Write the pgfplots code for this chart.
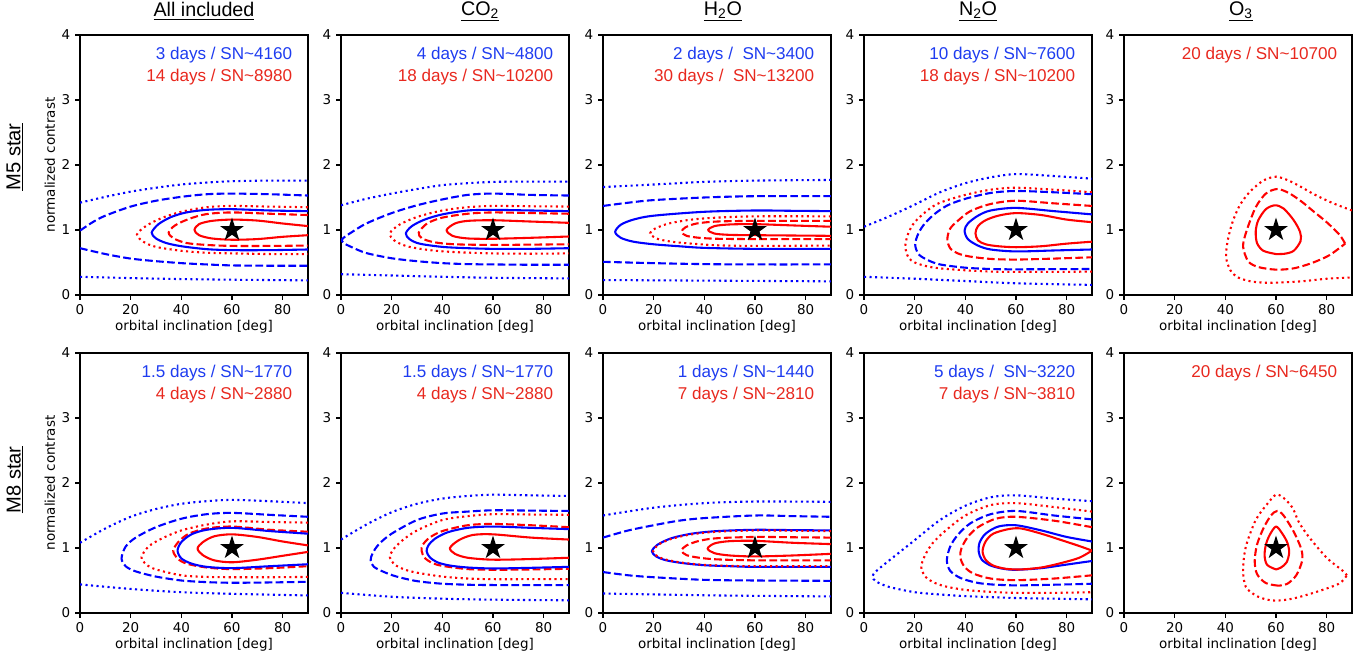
\documentclass[border=0pt]{standalone}
\usepackage{pgfplots}
\pgfplotsset{compat=1.18}
\usepackage{fontspec}
\setmainfont{DejaVu Sans}
\newfontfamily\arial{Liberation Sans}
\definecolor{tblue}{RGB}{30,60,240}
\definecolor{tred}{RGB}{232,40,30}
\definecolor{lblue}{RGB}{0,0,255}
\definecolor{lred}{RGB}{255,0,0}
\pgfdeclareplotmark{fstar}{%
  \pgfpathmoveto{\pgfpointpolar{90}{\pgfplotmarksize}}%
  \pgfpathlineto{\pgfpointpolar{126}{0.382*\pgfplotmarksize}}%
  \pgfpathlineto{\pgfpointpolar{162}{\pgfplotmarksize}}%
  \pgfpathlineto{\pgfpointpolar{198}{0.382*\pgfplotmarksize}}%
  \pgfpathlineto{\pgfpointpolar{234}{\pgfplotmarksize}}%
  \pgfpathlineto{\pgfpointpolar{270}{0.382*\pgfplotmarksize}}%
  \pgfpathlineto{\pgfpointpolar{306}{\pgfplotmarksize}}%
  \pgfpathlineto{\pgfpointpolar{342}{0.382*\pgfplotmarksize}}%
  \pgfpathlineto{\pgfpointpolar{18}{\pgfplotmarksize}}%
  \pgfpathlineto{\pgfpointpolar{54}{0.382*\pgfplotmarksize}}%
  \pgfpathclose
  \pgfusepathqfill
}
\tikzset{
  bs/.style={lblue, line width=1.5pt, smooth, line join=round},
  bd/.style={lblue, line width=1.5pt, smooth, dash pattern=on 5.55pt off 2.4pt},
  bo/.style={lblue, line width=1.5pt, smooth, dash pattern=on 1.5pt off 2.475pt},
  rs/.style={lred, line width=1.5pt, smooth, line join=round},
  rd/.style={lred, line width=1.5pt, smooth, dash pattern=on 5.55pt off 2.4pt},
  ro/.style={lred, line width=1.5pt, smooth, dash pattern=on 1.5pt off 2.475pt},
  ann/.style={anchor=east, font=\arial\fontsize{12.3}{14}\selectfont},
  ttl/.style={font=\arial\fontsize{14.2}{17}\selectfont},
  rowl/.style={rotate=90, font=\arial\fontsize{14.5}{17}\selectfont},
}
\pgfplotsset{
  panel/.style={
    scale only axis, width=164.16pt, height=187.2pt,
    anchor=south west,
    xmin=0, xmax=90, ymin=0, ymax=4,
    xtick={0,20,40,60,80}, ytick={0,1,2,3,4},
    tick align=outside, tick pos=left,
    major tick length=3.5pt,
    every tick/.style={black, line width=0.8pt},
    axis line style={black, line width=0.8pt},
    tick label style={font=\fontsize{9.7}{11}\selectfont},
    /pgf/number format/assume math mode=true,
    xlabel={orbital inclination [deg]},
    xlabel style={at={(rel axis cs:0.5,-0.123)}, anchor=center, font=\fontsize{9.7}{11}\selectfont},
    clip mode=individual,
  },
  ylab/.style={
    ylabel={normalized contrast},
    ylabel style={at={(rel axis cs:-0.132,0.5)}, anchor=center, rotate=0, font=\fontsize{9.7}{11}\selectfont},
  },
}
\newcommand{\starmark}{\addplot[only marks, mark=fstar, mark size=8.9pt, black] coordinates {(60,1)};}
\begin{document}
\begin{tikzpicture}
\useasboundingbox (0,0) rectangle (985.68pt,475.2pt);

% ===== Row 1: M5 star =====
% All included
\begin{axis}[panel, ylab, at={(57.6pt,262.8pt)}]
\addplot[bo] coordinates {(0,1.42)(10,1.51)(20,1.59)(30,1.65)(40,1.70)(50,1.73)(60,1.75)(75,1.76)(90,1.76)};
\addplot[bo] coordinates {(0,0.28)(20,0.26)(40,0.245)(60,0.235)(90,0.225)};
\addplot[bd] coordinates {(0,0.99)(5,1.12)(10,1.22)(20,1.36)(30,1.45)(40,1.51)(50,1.55)(60,1.56)(75,1.55)(90,1.53)};
\addplot[bd] coordinates {(0,0.72)(10,0.63)(20,0.56)(30,0.52)(40,0.49)(50,0.47)(60,0.455)(75,0.45)(90,0.45)};
\addplot[ro] coordinates {(90,1.35)(75,1.36)(60,1.37)(50,1.35)(40,1.28)(32,1.18)(26,1.06)(22.5,0.93)(25,0.82)(30,0.74)(40,0.68)(50,0.65)(60,0.64)(75,0.63)(90,0.63)};
\addplot[rd] coordinates {(90,1.23)(75,1.25)(60,1.27)(50,1.245)(43,1.17)(37.5,1.07)(35,0.96)(37,0.87)(42,0.80)(50,0.77)(60,0.755)(75,0.755)(90,0.76)};
\addplot[bs] coordinates {(90,1.29)(75,1.30)(60,1.32)(50,1.31)(42,1.27)(36,1.20)(31,1.09)(28.3,0.96)(30,0.87)(34,0.80)(40,0.75)(50,0.705)(60,0.69)(75,0.69)(90,0.70)};
\addplot[rs] coordinates {(90,1.06)(80,1.10)(70,1.145)(60,1.16)(52,1.14)(47,1.09)(45.2,1.0)(47,0.92)(52,0.87)(60,0.85)(70,0.86)(80,0.895)(90,0.92)};
\starmark
\node[ann, text=tblue] at (rel axis cs:0.952,0.923) {3 days / SN\textasciitilde 4160};
\node[ann, text=tred] at (rel axis cs:0.952,0.838) {14 days / SN\textasciitilde 8980};
\node[ttl] at (rel axis cs:0.544,1.092) {\underline{All included}};
\node[rowl] at (rel axis cs:-0.285,0.531) {\underline{M5 star}};
\end{axis}

% CO2
\begin{axis}[panel, at={(245.52pt,262.8pt)}]
\addplot[bo] coordinates {(0,1.38)(10,1.48)(20,1.56)(30,1.63)(40,1.69)(50,1.72)(60,1.74)(75,1.745)(90,1.745)};
\addplot[bo] coordinates {(0,0.32)(20,0.30)(40,0.28)(60,0.265)(90,0.255)};
\addplot[bd] coordinates {(90,1.53)(75,1.54)(60,1.56)(50,1.54)(40,1.47)(30,1.38)(20,1.26)(10,1.10)(4,0.96)(1,0.88)(0.3,0.85)(1,0.80)(4,0.74)(10,0.645)(20,0.565)(30,0.52)(40,0.49)(50,0.475)(60,0.47)(75,0.465)(90,0.465)};
\addplot[ro] coordinates {(90,1.36)(75,1.365)(60,1.37)(50,1.35)(40,1.30)(30,1.20)(23,1.08)(19.3,0.95)(21,0.84)(26,0.75)(35,0.69)(45,0.66)(60,0.64)(75,0.635)(90,0.64)};
\addplot[rd] coordinates {(90,1.25)(75,1.26)(60,1.27)(50,1.25)(40,1.19)(34,1.10)(30.7,0.96)(32,0.87)(37,0.81)(45,0.78)(60,0.77)(75,0.775)(90,0.78)};
\addplot[bs] coordinates {(90,1.29)(75,1.30)(60,1.31)(50,1.30)(40,1.24)(33,1.16)(28,1.06)(25.6,0.95)(27,0.86)(31,0.79)(40,0.74)(50,0.72)(60,0.71)(75,0.71)(90,0.72)};
\addplot[rs] coordinates {(90,1.11)(75,1.13)(60,1.15)(50,1.14)(45,1.10)(41.7,1.0)(44,0.91)(50,0.87)(60,0.865)(75,0.88)(90,0.90)};
\starmark
\node[ann, text=tblue] at (rel axis cs:0.952,0.923) {4 days / SN\textasciitilde 4800};
\node[ann, text=tred] at (rel axis cs:0.952,0.838) {18 days / SN\textasciitilde 10200};
\node[ttl] at (rel axis cs:0.61,1.092) {\underline{CO\textsubscript{2}}};
\end{axis}

% H2O
\begin{axis}[panel, at={(434.16pt,262.8pt)}]
\addplot[bo] coordinates {(0,1.66)(20,1.70)(40,1.74)(60,1.76)(90,1.77)};
\addplot[bo] coordinates {(0,0.23)(45,0.22)(90,0.21)};
\addplot[bd] coordinates {(0,1.37)(10,1.42)(20,1.46)(40,1.50)(60,1.52)(90,1.52)};
\addplot[bd] coordinates {(0,0.51)(20,0.49)(40,0.475)(60,0.47)(90,0.47)};
\addplot[bs] coordinates {(90,1.29)(75,1.295)(60,1.30)(40,1.28)(20,1.22)(12,1.16)(7,1.08)(4.8,0.97)(7,0.88)(12,0.82)(20,0.78)(30,0.75)(40,0.725)(60,0.71)(90,0.71)};
\addplot[ro] coordinates {(90,1.21)(60,1.21)(45,1.19)(35,1.16)(26,1.10)(20.5,1.02)(18.6,0.95)(21,0.87)(27,0.82)(35,0.79)(45,0.765)(60,0.755)(90,0.76)};
\addplot[rd] coordinates {(90,1.14)(60,1.14)(45,1.13)(37,1.10)(32.5,1.04)(31,0.97)(33,0.91)(38,0.88)(45,0.865)(60,0.86)(90,0.86)};
\addplot[rs] coordinates {(90,1.05)(75,1.07)(60,1.09)(50,1.085)(44,1.06)(41.5,1.0)(44,0.945)(50,0.925)(60,0.92)(75,0.915)(90,0.91)};
\starmark
\node[ann, text=tblue] at (rel axis cs:0.948,0.923) {2 days /\ \ SN\textasciitilde 3400};
\node[ann, text=tred] at (rel axis cs:0.948,0.838) {30 days /\ \ SN\textasciitilde 13200};
\node[ttl] at (rel axis cs:0.526,1.092) {\underline{H\textsubscript{2}O}};
\end{axis}

% N2O
\begin{axis}[panel, at={(622.08pt,262.8pt)}]
\addplot[bo] coordinates {(0,1.05)(10,1.21)(20,1.39)(30,1.58)(40,1.72)(50,1.81)(60,1.86)(75,1.83)(90,1.79)};
\addplot[bo] coordinates {(0,0.28)(20,0.25)(40,0.215)(60,0.18)(90,0.155)};
\addplot[ro] coordinates {(90,1.58)(75,1.62)(60,1.65)(50,1.62)(40,1.54)(30,1.42)(25,1.30)(20,1.12)(17.5,0.95)(16.3,0.75)(17.5,0.58)(20,0.50)(25,0.44)(30,0.41)(40,0.38)(50,0.36)(60,0.355)(75,0.355)(90,0.36)};
\addplot[bd] coordinates {(90,1.55)(75,1.58)(60,1.60)(50,1.57)(40,1.48)(33,1.38)(28,1.25)(24,1.10)(21.5,0.95)(20.2,0.78)(21.5,0.63)(25,0.54)(30,0.47)(40,0.42)(50,0.40)(60,0.395)(90,0.40)};
\addplot[rd] coordinates {(90,1.37)(75,1.41)(60,1.45)(50,1.40)(42,1.29)(37,1.14)(34,1.02)(32.9,0.86)(34,0.72)(37,0.64)(42,0.59)(50,0.555)(60,0.545)(75,0.56)(90,0.58)};
\addplot[bs] coordinates {(90,1.24)(75,1.29)(60,1.34)(50,1.30)(45,1.22)(41,1.10)(39.7,0.99)(41,0.86)(45,0.76)(50,0.70)(60,0.67)(75,0.685)(90,0.70)};
\addplot[rs] coordinates {(90,1.12)(80,1.16)(70,1.23)(60,1.26)(53,1.22)(48,1.15)(45,1.06)(44,0.95)(45,0.84)(48,0.78)(53,0.75)(60,0.735)(70,0.75)(80,0.79)(90,0.82)};
\starmark
\node[ann, text=tblue] at (rel axis cs:0.948,0.923) {10 days / SN\textasciitilde 7600};
\node[ann, text=tred] at (rel axis cs:0.948,0.838) {18 days / SN\textasciitilde 10200};
\node[ttl] at (rel axis cs:0.5,1.092) {\underline{N\textsubscript{2}O}};
\end{axis}

% O3
\begin{axis}[panel, at={(809.28pt,262.8pt)}]
\addplot[ro] coordinates {(90,1.30)(82,1.42)(75,1.55)(70,1.66)(65,1.76)(60,1.82)(55,1.76)(50,1.60)(46,1.40)(43,1.14)(41,0.85)(40.3,0.58)(42,0.38)(45,0.27)(50,0.21)(55,0.19)(60,0.19)(70,0.21)(80,0.25)(90,0.27)};
\addplot[rd] coordinates {(87.3,0.79)(85,0.93)(80,1.12)(75,1.28)(70,1.44)(65,1.57)(60.5,1.63)(56,1.56)(52,1.35)(48.5,1.0)(47,0.75)(49,0.52)(53,0.43)(60,0.39)(67,0.41)(74,0.49)(81,0.61)(87.3,0.79)};
\addplot[rs] coordinates {(60,0.63)(55,0.68)(52.5,0.80)(52,0.98)(53,1.15)(56,1.32)(59.6,1.38)(63,1.33)(67,1.15)(69.5,0.97)(69.7,0.83)(67,0.68)(63.5,0.635)(60,0.63)};
\starmark
\node[ann, text=tred] at (rel axis cs:0.956,0.923) {20 days / SN\textasciitilde 10700};
\node[ttl] at (rel axis cs:0.513,1.092) {\underline{O\textsubscript{3}}};
\end{axis}

% ===== Row 2: M8 star =====
% All included
\begin{axis}[panel, ylab, at={(57.6pt,33.84pt)}]
\addplot[bo] coordinates {(0,1.08)(10,1.30)(20,1.48)(30,1.60)(40,1.68)(50,1.72)(60,1.74)(75,1.72)(90,1.69)};
\addplot[bo] coordinates {(0,0.44)(20,0.37)(40,0.32)(60,0.295)(90,0.27)};
\addplot[bd] coordinates {(90,1.48)(75,1.51)(60,1.54)(50,1.52)(40,1.45)(30,1.32)(22,1.16)(18,1.02)(16.4,0.84)(18,0.72)(22,0.64)(30,0.56)(40,0.50)(50,0.475)(60,0.465)(75,0.47)(90,0.48)};
\addplot[ro] coordinates {(90,1.39)(75,1.40)(60,1.41)(50,1.36)(40,1.27)(32,1.14)(27,1.02)(24.3,0.86)(26,0.75)(30,0.67)(40,0.58)(50,0.555)(60,0.55)(75,0.55)(90,0.555)};
\addplot[rd] coordinates {(90,1.25)(75,1.28)(60,1.33)(50,1.30)(43,1.22)(39,1.10)(36.8,0.96)(38.5,0.84)(42,0.76)(50,0.70)(60,0.675)(75,0.69)(90,0.72)};
\addplot[bs] coordinates {(90,1.22)(75,1.26)(60,1.31)(50,1.28)(44,1.21)(40,1.09)(38.5,0.96)(40,0.84)(44,0.76)(50,0.71)(60,0.69)(75,0.72)(90,0.75)};
\addplot[rs] coordinates {(90,1.04)(80,1.10)(70,1.17)(60,1.21)(53,1.18)(48.5,1.09)(46.4,0.99)(48.5,0.89)(53,0.81)(60,0.78)(70,0.82)(80,0.88)(90,0.94)};
\starmark
\node[ann, text=tblue] at (rel axis cs:0.952,0.923) {1.5 days / SN\textasciitilde 1770};
\node[ann, text=tred] at (rel axis cs:0.952,0.838) {4 days / SN\textasciitilde 2880};
\node[rowl] at (rel axis cs:-0.285,0.512) {\underline{M8 star}};
\end{axis}

% CO2
\begin{axis}[panel, at={(245.52pt,33.84pt)}]
\addplot[bo] coordinates {(0,1.13)(10,1.36)(20,1.55)(30,1.68)(40,1.76)(50,1.80)(60,1.82)(75,1.81)(90,1.80)};
\addplot[bo] coordinates {(0,0.31)(20,0.25)(40,0.22)(60,0.205)(90,0.195)};
\addplot[bd] coordinates {(90,1.57)(75,1.575)(60,1.58)(50,1.56)(40,1.53)(30,1.43)(20,1.22)(15,1.06)(12.5,0.92)(11.7,0.81)(13,0.71)(17,0.63)(22,0.56)(30,0.49)(40,0.45)(50,0.435)(60,0.43)(75,0.43)(90,0.43)};
\addplot[ro] coordinates {(90,1.51)(75,1.515)(60,1.52)(50,1.49)(40,1.43)(30,1.27)(24,1.11)(20.5,0.97)(19.3,0.86)(21,0.75)(25,0.67)(30,0.62)(40,0.56)(50,0.53)(60,0.52)(75,0.52)(90,0.52)};
\addplot[rd] coordinates {(90,1.32)(75,1.35)(60,1.37)(50,1.35)(40,1.26)(35,1.16)(32.3,1.05)(31.8,0.96)(33,0.85)(36,0.77)(40,0.725)(50,0.675)(60,0.665)(75,0.67)(90,0.68)};
\addplot[bs] coordinates {(90,1.29)(75,1.31)(60,1.33)(50,1.31)(42,1.24)(37,1.14)(34.5,1.04)(33.8,0.95)(35,0.86)(38,0.78)(43,0.73)(50,0.70)(60,0.685)(75,0.695)(90,0.71)};
\addplot[rs] coordinates {(90,1.13)(75,1.16)(60,1.21)(52,1.20)(46.5,1.12)(43,1.0)(45,0.91)(50,0.85)(60,0.82)(75,0.83)(90,0.85)};
\starmark
\node[ann, text=tblue] at (rel axis cs:0.952,0.923) {1.5 days / SN\textasciitilde 1770};
\node[ann, text=tred] at (rel axis cs:0.952,0.838) {4 days / SN\textasciitilde 2880};
\end{axis}

% H2O
\begin{axis}[panel, at={(434.16pt,33.84pt)}]
\addplot[bo] coordinates {(0,1.50)(20,1.62)(40,1.69)(60,1.715)(90,1.71)};
\addplot[bo] coordinates {(0,0.30)(45,0.27)(90,0.255)};
\addplot[bd] coordinates {(0,1.16)(10,1.27)(20,1.35)(30,1.42)(40,1.46)(60,1.50)(75,1.49)(90,1.48)};
\addplot[bd] coordinates {(0,0.63)(10,0.58)(20,0.55)(40,0.51)(60,0.50)(90,0.495)};
\addplot[bs] coordinates {(90,1.27)(75,1.275)(60,1.28)(45,1.26)(35,1.22)(27,1.15)(21.5,1.05)(19.3,0.95)(21,0.87)(25,0.81)(32,0.765)(40,0.735)(50,0.72)(60,0.71)(90,0.71)};
\addplot[ro] coordinates {(90,1.26)(75,1.265)(60,1.27)(45,1.25)(35,1.21)(27,1.14)(21.8,1.05)(19.8,0.95)(21.5,0.87)(25.5,0.815)(32,0.77)(40,0.74)(50,0.725)(60,0.72)(90,0.72)};
\addplot[rd] coordinates {(90,1.16)(75,1.165)(60,1.17)(45,1.15)(38,1.11)(33,1.04)(31,0.96)(33,0.89)(38,0.85)(45,0.825)(60,0.81)(90,0.81)};
\addplot[rs] coordinates {(90,1.06)(75,1.08)(60,1.11)(50,1.105)(44,1.07)(41.3,0.99)(44,0.92)(50,0.885)(60,0.87)(75,0.885)(90,0.91)};
\starmark
\node[ann, text=tblue] at (rel axis cs:0.948,0.923) {1 days / SN\textasciitilde 1440};
\node[ann, text=tred] at (rel axis cs:0.948,0.838) {7 days / SN\textasciitilde 2810};
\end{axis}

% N2O
\begin{axis}[panel, at={(622.08pt,33.84pt)}]
\addplot[bo] coordinates {(90,1.72)(75,1.76)(60,1.81)(50,1.78)(40,1.65)(30,1.43)(20,1.12)(10,0.81)(5,0.65)(3.3,0.56)(5,0.48)(10,0.40)(20,0.32)(30,0.285)(40,0.26)(60,0.23)(75,0.22)(90,0.21)};
\addplot[ro] coordinates {(90,1.56)(75,1.63)(60,1.69)(50,1.66)(40,1.50)(32,1.26)(27,1.07)(24,0.88)(22.6,0.71)(24,0.57)(27,0.48)(32,0.41)(40,0.355)(50,0.325)(60,0.31)(75,0.31)(90,0.32)};
\addplot[bd] coordinates {(90,1.44)(75,1.50)(60,1.57)(50,1.52)(42,1.38)(37,1.20)(34,1.02)(32.7,0.81)(34,0.65)(38,0.54)(44,0.47)(50,0.44)(60,0.425)(75,0.435)(90,0.45)};
\addplot[rd] coordinates {(90,1.32)(75,1.42)(60,1.48)(52,1.45)(45,1.32)(41,1.17)(38.5,1.0)(38,0.86)(39.5,0.72)(43,0.61)(50,0.53)(60,0.505)(75,0.53)(90,0.58)};
\addplot[bs] coordinates {(90,1.10)(80,1.17)(70,1.27)(60,1.35)(53,1.33)(48,1.22)(45.6,1.08)(45.3,0.94)(46.5,0.82)(50,0.73)(55,0.68)(60,0.665)(70,0.69)(80,0.745)(90,0.80)};
\addplot[rs] coordinates {(90,0.96)(85,1.03)(78,1.12)(70,1.22)(62,1.30)(57,1.29)(51,1.22)(48,1.10)(46.8,0.95)(48,0.82)(51,0.73)(56,0.68)(62,0.67)(70,0.70)(78,0.77)(85,0.85)(90,0.96)};
\starmark
\node[ann, text=tblue] at (rel axis cs:0.948,0.923) {5 days /\ \ SN\textasciitilde 3220};
\node[ann, text=tred] at (rel axis cs:0.948,0.838) {7 days / SN\textasciitilde 3810};
\end{axis}

% O3
\begin{axis}[panel, at={(809.28pt,33.84pt)}]
\addplot[ro] coordinates {(88,0.58)(86,0.66)(80,0.85)(73,1.17)(69,1.40)(66.5,1.62)(63,1.77)(60,1.82)(56.6,1.68)(52,1.43)(48.1,1.02)(47,0.66)(48.1,0.40)(52,0.27)(56,0.21)(60,0.19)(66.5,0.22)(75.6,0.32)(84.8,0.45)(88,0.58)};
\addplot[rd] coordinates {(61,0.42)(56,0.46)(52.5,0.60)(51.6,0.80)(52.5,1.05)(55,1.30)(58,1.50)(60.5,1.57)(63,1.50)(67,1.25)(70,0.98)(70.3,0.80)(68,0.58)(64.5,0.45)(61,0.42)};
\addplot[rs] coordinates {(60,0.67)(56.5,0.74)(55.5,0.88)(56,1.05)(57.5,1.20)(60,1.33)(62.5,1.22)(64.5,1.08)(65.2,0.93)(64.2,0.78)(62,0.70)(60,0.67)};
\starmark
\node[ann, text=tred] at (rel axis cs:0.956,0.923) {20 days / SN\textasciitilde 6450};
\end{axis}
\end{tikzpicture}
\end{document}
